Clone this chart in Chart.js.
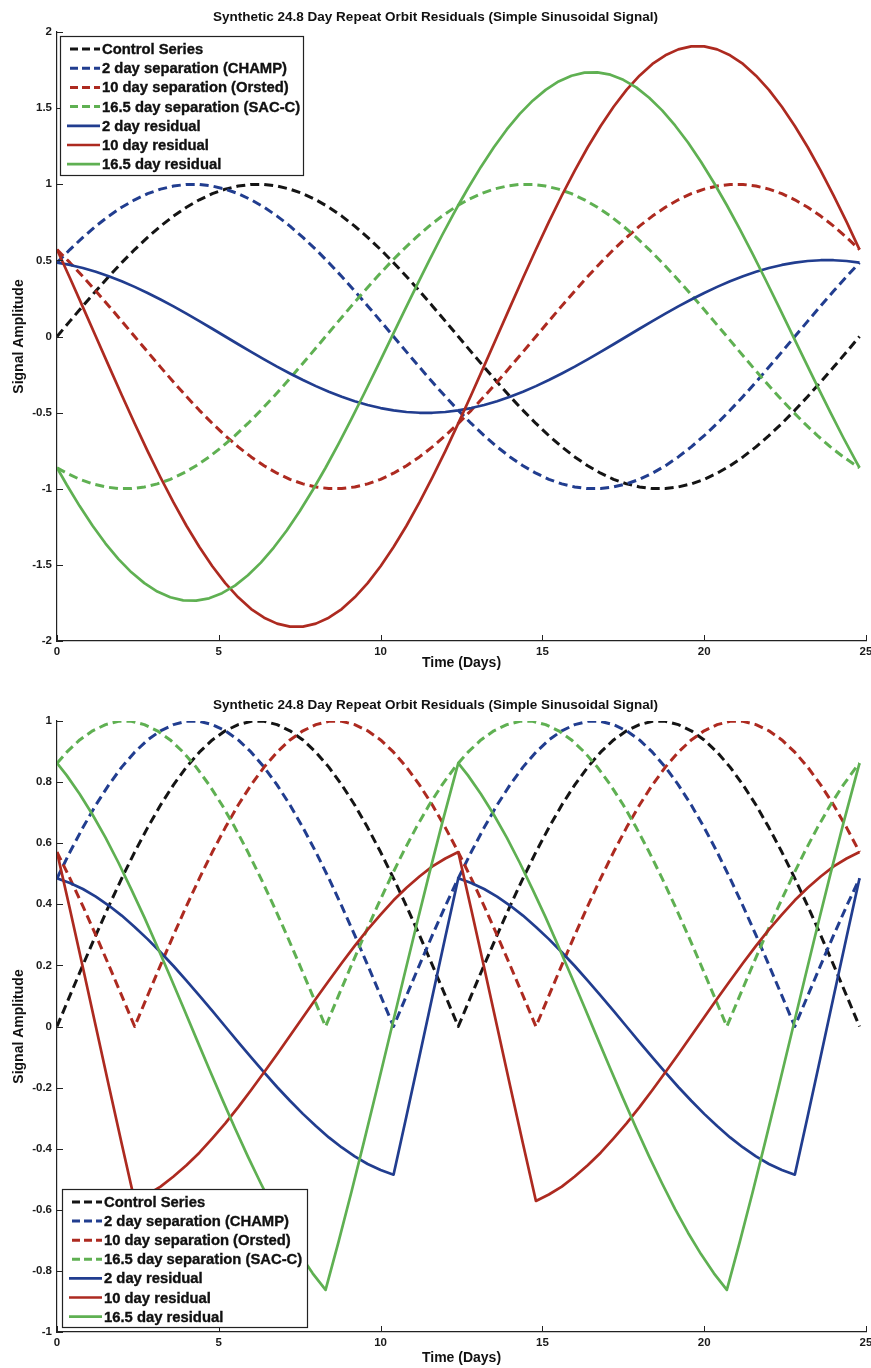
<!DOCTYPE html>
<html><head><meta charset="utf-8">
<script src="https://cdn.jsdelivr.net/npm/chart.js@4.4.0/dist/chart.umd.min.js"></script>
<style>
html,body{margin:0;padding:0;background:#fff;}
#wrap{position:relative;width:871px;height:1368px;overflow:hidden;}
.c{position:absolute;left:0;width:871px;height:684px;}
</style></head><body>
<div id="wrap">
<div class="c" style="top:0"><canvas id="topChart" width="871" height="684"></canvas></div>
<div class="c" style="top:684px"><canvas id="botChart" width="871" height="684"></canvas></div>
</div>
<script>
// ---- shared labels ----
const chartTitle = 'Synthetic 24.8 Day Repeat Orbit Residuals (Simple Sinusoidal Signal)';
const xTitle = 'Time (Days)';
const yTitle = 'Signal Amplitude';
const seriesNames = ['Control Series','2 day separation (CHAMP)','10 day separation (Orsted)','16.5 day separation (SAC-C)','2 day residual','10 day residual','16.5 day residual'];

// ---- tick values / labels ----
const xTicks = [0,5,10,15,20,25];
const xTickLabels = ['0','5','10','15','20','25'];
const yTicksTop = [-2,-1.5,-1,-0.5,0,0.5,1,1.5,2];
const yTickLabelsTop = ['-2','-1.5','-1','-0.5','0','0.5','1','1.5','2'];
const yTicksBot = [-1,-0.8,-0.6,-0.4,-0.2,0,0.2,0.4,0.6,0.8,1];
const yTickLabelsBot = ['-1','-0.8','-0.6','-0.4','-0.2','0','0.2','0.4','0.6','0.8','1'];

// ---- time axes (days) ----
const days = [0,0.4,0.8,1.2,1.6,2,2.4,2.8,3.2,3.6,4,4.4,4.8,5.2,5.6,6,6.4,6.8,7.2,7.6,8,8.4,8.8,9.2,9.6,10,10.4,10.8,11.2,11.6,12,12.4,12.8,13.2,13.6,14,14.4,14.8,15.2,15.6,16,16.4,16.8,17.2,17.6,18,18.4,18.8,19.2,19.6,20,20.4,20.8,21.2,21.6,22,22.4,22.8,23.2,23.6,24,24.4,24.8];
const days16 = [0,0.3,0.7,1.1,1.5,1.9,2.3,2.7,3.1,3.5,3.9,4.3,4.7,5.1,5.5,5.9,6.3,6.7,7.1,7.5,7.9,8.3,8.7,9.1,9.5,9.9,10.3,10.7,11.1,11.5,11.9,12.3,12.4,12.7,13.1,13.5,13.9,14.3,14.7,15.1,15.5,15.9,16.3,16.7,17.1,17.5,17.9,18.3,18.7,19.1,19.5,19.9,20.3,20.7,21.1,21.5,21.9,22.3,22.7,23.1,23.5,23.9,24.3,24.7,24.8];

// ---- top panel series ----
const controlTop = [0,.101,.201,.299,.394,.485,.571,.651,.725,.791,.849,.898,.938,.968,.988,.999,.999,.988,.968,.938,.898,.849,.791,.725,.651,.571,.485,.394,.299,.201,.101,0,-.101,-.201,-.299,-.394,-.485,-.571,-.651,-.725,-.791,-.849,-.898,-.938,-.968,-.988,-.999,-.999,-.988,-.968,-.938,-.898,-.849,-.791,-.725,-.651,-.571,-.485,-.394,-.299,-.201,-.101,0];
const sep2Top = [.485,.571,.651,.725,.791,.849,.898,.938,.968,.988,.999,.999,.988,.968,.938,.898,.849,.791,.725,.651,.571,.485,.394,.299,.201,.101,0,-.101,-.201,-.299,-.394,-.485,-.571,-.651,-.725,-.791,-.849,-.898,-.938,-.968,-.988,-.999,-.999,-.988,-.968,-.938,-.898,-.849,-.791,-.725,-.651,-.571,-.485,-.394,-.299,-.201,-.101,0,.101,.201,.299,.394,.485];
const sep10Top = [.571,.485,.394,.299,.201,.101,0,-.101,-.201,-.299,-.394,-.485,-.571,-.651,-.725,-.791,-.849,-.898,-.938,-.968,-.988,-.999,-.999,-.988,-.968,-.938,-.898,-.849,-.791,-.725,-.651,-.571,-.485,-.394,-.299,-.201,-.101,0,.101,.201,.299,.394,.485,.571,.651,.725,.791,.849,.898,.938,.968,.988,.999,.999,.988,.968,.938,.898,.849,.791,.725,.651,.571];
const sep16Top = [-.862,-.898,-.938,-.968,-.988,-.999,-.999,-.988,-.968,-.938,-.898,-.849,-.791,-.725,-.651,-.571,-.485,-.394,-.299,-.201,-.101,0,.101,.201,.299,.394,.485,.571,.651,.725,.791,.849,.862,.898,.938,.968,.988,.999,.999,.988,.968,.938,.898,.849,.791,.725,.651,.571,.485,.394,.299,.201,.101,0,-.101,-.201,-.299,-.394,-.485,-.571,-.651,-.725,-.791,-.849,-.862];
const res2Top = [.485,.470,.450,.425,.396,.363,.326,.286,.243,.198,.150,.101,.051,0,-.051,-.101,-.150,-.198,-.243,-.286,-.326,-.363,-.396,-.425,-.450,-.470,-.485,-.496,-.501,-.501,-.496,-.485,-.470,-.450,-.425,-.396,-.363,-.326,-.286,-.243,-.198,-.150,-.101,-.051,0,.051,.101,.150,.198,.243,.286,.326,.363,.396,.425,.450,.470,.485,.496,.501,.501,.496,.485];
const res10Top = [.571,.384,.193,0,-.193,-.384,-.571,-.753,-.926,-1.090,-1.243,-1.383,-1.509,-1.620,-1.713,-1.790,-1.847,-1.886,-1.906,-1.906,-1.886,-1.847,-1.790,-1.713,-1.620,-1.509,-1.383,-1.243,-1.090,-.926,-.753,-.571,-.384,-.193,0,.193,.384,.571,.753,.926,1.090,1.243,1.383,1.509,1.620,1.713,1.790,1.847,1.886,1.906,1.906,1.886,1.847,1.790,1.713,1.620,1.509,1.383,1.243,1.090,.926,.753,.571];
const res16Top = [-.862,-.974,-1.114,-1.243,-1.360,-1.462,-1.549,-1.620,-1.675,-1.713,-1.733,-1.735,-1.720,-1.686,-1.636,-1.568,-1.485,-1.386,-1.274,-1.148,-1.010,-.862,-.705,-.541,-.371,-.198,-.022,.154,.328,.499,.665,.823,.862,.974,1.114,1.243,1.360,1.462,1.549,1.620,1.675,1.713,1.733,1.735,1.720,1.686,1.636,1.568,1.485,1.386,1.274,1.148,1.010,.862,.705,.541,.371,.198,.022,-.154,-.328,-.499,-.665,-.823,-.862];

// ---- bottom panel series ----
const controlBot = [0,.101,.201,.299,.394,.485,.571,.651,.725,.791,.849,.898,.938,.968,.988,.999,.999,.988,.968,.938,.898,.849,.791,.725,.651,.571,.485,.394,.299,.201,.101,0,.101,.201,.299,.394,.485,.571,.651,.725,.791,.849,.898,.938,.968,.988,.999,.999,.988,.968,.938,.898,.849,.791,.725,.651,.571,.485,.394,.299,.201,.101,0];
const sep2Bot = [.485,.571,.651,.725,.791,.849,.898,.938,.968,.988,.999,.999,.988,.968,.938,.898,.849,.791,.725,.651,.571,.485,.394,.299,.201,.101,0,.101,.201,.299,.394,.485,.571,.651,.725,.791,.849,.898,.938,.968,.988,.999,.999,.988,.968,.938,.898,.849,.791,.725,.651,.571,.485,.394,.299,.201,.101,0,.101,.201,.299,.394,.485];
const sep10Bot = [.571,.485,.394,.299,.201,.101,0,.101,.201,.299,.394,.485,.571,.651,.725,.791,.849,.898,.938,.968,.988,.999,.999,.988,.968,.938,.898,.849,.791,.725,.651,.571,.485,.394,.299,.201,.101,0,.101,.201,.299,.394,.485,.571,.651,.725,.791,.849,.898,.938,.968,.988,.999,.999,.988,.968,.938,.898,.849,.791,.725,.651,.571];
const sep16Bot = [.862,.898,.938,.968,.988,.999,.999,.988,.968,.938,.898,.849,.791,.725,.651,.571,.485,.394,.299,.201,.101,0,.101,.201,.299,.394,.485,.571,.651,.725,.791,.849,.862,.898,.938,.968,.988,.999,.999,.988,.968,.938,.898,.849,.791,.725,.651,.571,.485,.394,.299,.201,.101,0,.101,.201,.299,.394,.485,.571,.651,.725,.791,.849,.862];
const res2Bot = [.485,.470,.450,.425,.396,.363,.326,.286,.243,.198,.150,.101,.051,0,-.051,-.101,-.150,-.198,-.243,-.286,-.326,-.363,-.396,-.425,-.450,-.470,-.485,-.293,-.098,.098,.293,.485,.470,.450,.425,.396,.363,.326,.286,.243,.198,.150,.101,.051,0,-.051,-.101,-.150,-.198,-.243,-.286,-.326,-.363,-.396,-.425,-.450,-.470,-.485,-.293,-.098,.098,.293,.485];
const res10Bot = [.571,.384,.193,0,-.193,-.384,-.571,-.550,-.524,-.491,-.454,-.413,-.366,-.317,-.264,-.208,-.150,-.091,-.030,.030,.091,.150,.208,.264,.317,.366,.413,.454,.491,.524,.550,.571,.384,.193,0,-.193,-.384,-.571,-.550,-.524,-.491,-.454,-.413,-.366,-.317,-.264,-.208,-.150,-.091,-.030,.030,.091,.150,.208,.264,.317,.366,.413,.454,.491,.524,.550,.571];
const res16Bot = [.862,.822,.761,.693,.618,.536,.448,.357,.261,.163,.063,-.038,-.138,-.237,-.333,-.426,-.514,-.598,-.675,-.745,-.808,-.862,-.705,-.541,-.371,-.198,-.022,.154,.328,.499,.665,.823,.862,.822,.761,.693,.618,.536,.448,.357,.261,.163,.063,-.038,-.138,-.237,-.333,-.426,-.514,-.598,-.675,-.745,-.808,-.862,-.705,-.541,-.371,-.198,-.022,.154,.328,.499,.665,.823,.862];

// ---- styling ----
const FONT = '"Liberation Sans", Arial, Helvetica, sans-serif';
const colBlack = '#141414', colBlue = '#213d8f', colRed = '#ad2a20', colGreen = '#5fb052';
const seriesColors = [colBlack, colBlue, colRed, colGreen, colBlue, colRed, colGreen];
const seriesDashed = [true, true, true, true, false, false, false];

Chart.defaults.font.family = FONT;
Chart.defaults.font.weight = 'bold';
Chart.defaults.color = '#1a1a1a';

function makeDataset(i, xs, ys) {
  return {
    label: seriesNames[i],
    data: xs.map((x, k) => ({ x: x, y: ys[k] })),
    borderColor: seriesColors[i],
    borderWidth: seriesDashed[i] ? 3 : 2.7,
    borderDash: seriesDashed[i] ? [9, 5] : [],
    borderJoinStyle: 'round',
    pointRadius: 0,
    tension: 0,
    fill: false,
    order: 10 - i
  };
}

const inwardTicks = {
  id: 'inwardTicks',
  afterDatasetsDraw(chart, args, o) {
    const ctx = chart.ctx, a = chart.chartArea;
    const xs = chart.scales.x, ys = chart.scales.y;
    ctx.save();
    ctx.strokeStyle = '#222';
    ctx.lineWidth = 1;
    ctx.setLineDash([]);
    ctx.beginPath();
    xs.ticks.forEach(t => {
      const px = Math.round(xs.getPixelForValue(t.value)) + 0.5;
      ctx.moveTo(px, a.bottom); ctx.lineTo(px, a.bottom - o.len);
    });
    ys.ticks.forEach(t => {
      const py = Math.round(ys.getPixelForValue(t.value)) + 0.5;
      ctx.moveTo(a.left, py); ctx.lineTo(a.left + o.len, py);
    });
    ctx.stroke();
    ctx.restore();
  }
};

const boxLegend = {
  id: 'boxLegend',
  afterDraw(chart, args, o) {
    const ctx = chart.ctx;
    ctx.save();
    ctx.fillStyle = '#fff';
    ctx.fillRect(o.x, o.y, o.w, o.h);
    ctx.strokeStyle = '#222';
    ctx.lineWidth = 1.2;
    ctx.strokeRect(o.x + 0.5, o.y + 0.5, o.w, o.h);
    ctx.font = 'bold ' + o.fontSize + 'px ' + FONT;
    ctx.textBaseline = 'middle';
    ctx.textAlign = 'left';
    chart.data.datasets.forEach((ds, i) => {
      const y = o.rowY + i * o.rowH;
      const dashed = ds.borderDash && ds.borderDash.length;
      ctx.strokeStyle = ds.borderColor;
      ctx.lineWidth = ds.borderWidth;
      ctx.setLineDash(dashed ? [8, 4] : []);
      ctx.beginPath();
      ctx.moveTo(dashed ? o.dashX0 : o.lineX0, y);
      ctx.lineTo(o.lineX1, y);
      ctx.stroke();
      ctx.setLineDash([]);
      ctx.fillStyle = '#111';
      ctx.strokeStyle = '#111';
      ctx.lineWidth = 0.35;
      ctx.fillText(ds.label, o.textX, y + 1);
      ctx.strokeText(ds.label, o.textX, y + 1);
    });
    ctx.restore();
  }
};

function makeChart(canvasId, seriesSets, yTicks, yLabels, yMin, yMax, geom) {
  const datasets = seriesSets.map((s, i) => makeDataset(i, s[0], s[1]));
  return new Chart(document.getElementById(canvasId), {
    type: 'line',
    data: { datasets },
    plugins: [inwardTicks, boxLegend],
    options: {
      responsive: false,
      animation: false,
      devicePixelRatio: 1,
      layout: { padding: { left: 0, right: 0, top: 0, bottom: 0 } },
      plugins: {
        legend: { display: false },
        tooltip: { enabled: false },
        title: {
          display: true, text: chartTitle, color: '#111',
          font: { size: 13.5, weight: 'bold', family: FONT },
          padding: { top: geom.titleTop, bottom: geom.titleBottom }
        },
        inwardTicks: { len: 6 },
        boxLegend: geom.legend
      },
      scales: {
        x: {
          type: 'linear', min: 0, max: 25,
          grid: { display: false, drawTicks: false },
          border: { display: true, color: '#222', width: 1.2 },
          afterBuildTicks: s => { s.ticks = xTicks.map(v => ({ value: v })); },
          ticks: {
            padding: 4, maxRotation: 0, autoSkip: false,
            font: { size: 11.5, weight: 'bold', family: FONT }, color: '#1a1a1a',
            callback: v => xTickLabels[xTicks.indexOf(v)]
          },
          title: {
            display: true, text: xTitle, color: '#111',
            font: { size: 14, weight: 'bold', family: FONT },
            padding: { top: 0, bottom: geom.xTitleBottom }
          },
          afterFit: s => { s.height = geom.xHeight; s.paddingRight = 5; }
        },
        y: {
          type: 'linear', min: yMin, max: yMax,
          grid: { display: false, drawTicks: false },
          border: { display: true, color: '#222', width: 1.2 },
          afterBuildTicks: s => { s.ticks = yTicks.map(v => ({ value: v })); },
          ticks: {
            padding: 5, autoSkip: false,
            font: { size: 11.5, weight: 'bold', family: FONT }, color: '#1a1a1a',
            callback: v => yLabels[yTicks.indexOf(v)]
          },
          title: {
            display: true, text: yTitle, color: '#111',
            font: { size: 14, weight: 'bold', family: FONT },
            padding: { top: 10.6, bottom: 0 }
          },
          afterFit: s => { s.width = 57; }
        }
      }
    }
  });
}

makeChart('topChart',
  [[days, controlTop], [days, sep2Top], [days, sep10Top], [days16, sep16Top], [days, res2Top], [days, res10Top], [days16, res16Top]],
  yTicksTop, yTickLabelsTop, -2, 2,
  { titleTop: 8.9, titleBottom: 6.9, xHeight: 43, xTitleBottom: 12.6,
    legend: { x: 60, y: 36, w: 243, h: 139, rowY: 49, rowH: 19.2, lineX0: 67, dashX0: 70, lineX1: 100, textX: 102, fontSize: 14.8 } });

makeChart('botChart',
  [[days, controlBot], [days, sep2Bot], [days, sep10Bot], [days16, sep16Bot], [days, res2Bot], [days, res10Bot], [days16, res16Bot]],
  yTicksBot, yTickLabelsBot, -1, 1,
  { titleTop: 12.9, titleBottom: 7.9, xHeight: 36, xTitleBottom: 1.6,
    legend: { x: 62, y: 505, w: 245, h: 138, rowY: 518, rowH: 19.1, lineX0: 69, dashX0: 72, lineX1: 102, textX: 104, fontSize: 14.8 } });
</script>
</body></html>
